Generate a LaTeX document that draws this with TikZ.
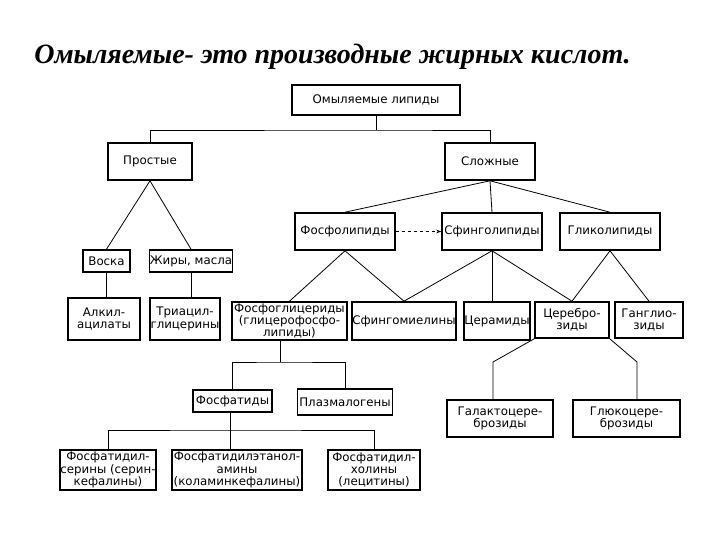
\documentclass[tikz,border=0pt]{standalone}
\usepackage{fontspec}
\setmainfont{Liberation Serif}
\newfontfamily\boxfont{DejaVu Sans}
\usetikzlibrary{arrows.meta,positioning,calc}

\begin{document}
\begin{tikzpicture}[x=1pt,y=-1pt,
every node/.style={draw, line width=1.6pt, align=center, inner sep=0.5pt,
font=\boxfont\fontsize{11.8}{12.2}\selectfont},
link/.style={line width=0.8pt}]
\useasboundingbox (0,0) rectangle (720,540);
\node[draw=none, anchor=west, font=\rmfamily\bfseries\itshape\fontsize{28}{32}\selectfont] (T) at (33,57) {Омыляемые- это производные жирных кислот.};
\node[minimum width=168, minimum height=30] (L) at (376,100) {Омыляемые липиды};
\node[minimum width=84, minimum height=37] (P) at (150,161.5) {Простые};
\node[minimum width=90, minimum height=37] (S) at (490,161.5) {Сложные};
\node[minimum width=100, minimum height=37] (S1) at (345,231.5) {Фосфолипиды};
\node[minimum width=100, minimum height=37] (S2) at (492,231.5) {Сфинголипиды};
\node[minimum width=100, minimum height=37] (S3) at (610,231.5) {Гликолипиды};
\node[minimum width=47, minimum height=22] (P1) at (106.5,261) {Воска};
\node[minimum width=82, minimum height=22] (P2) at (191,261) {Жиры, масла};
\node[minimum width=72, minimum height=42] (P11) at (104,319) {Алкил-\\ацилаты};
\node[minimum width=66, minimum height=42] (P21) at (185,319) {Триацил-\\глицерины};
\node[minimum width=115, minimum height=38] (S11) at (289.5,321) {Фосфоглицериды\\(глицерофосфо-\\липиды)};
\node[minimum width=102, minimum height=38] (S21) at (404,321) {Сфингомиелины};
\node[minimum width=64, minimum height=38] (S22) at (497,321) {Церамиды};
\node[minimum width=74, minimum height=36] (S31) at (572,320) {Церебро-\\зиды};
\node[minimum width=68, minimum height=36] (S32) at (649,320) {Ганглио-\\зиды};
\node[minimum width=79, minimum height=22] (F1) at (232.5,401) {Фосфатиды};
\node[minimum width=95, minimum height=26] (F2) at (345,402) {Плазмалогены};
\node[minimum width=106, minimum height=37] (C1) at (500,418.5) {Галактоцере-\\брозиды};
\node[minimum width=107, minimum height=37] (C2) at (626.5,418.5) {Глюкоцере-\\брозиды};
\node[minimum width=87, minimum height=40] (F11) at (108,470) {Фосфатидил-\\серины (серин-\\кефалины)};
\node[minimum width=130, minimum height=40] (F12) at (237,470) {Фосфатидилэтанол-\\амины\\(коламинкефалины)};
\node[minimum width=92, minimum height=40] (F13) at (374,470) {Фосфатидил-\\холины\\(лецитины)};
\coordinate (J1) at (376,130);
\coordinate (J2) at (280,362);
\coordinate (J3) at (230,430);
\coordinate (K1) at (493,362);
\coordinate (K2) at (637,362);
\draw[link] (L)--(J1);
\draw[link] (P.north) |- (J1) -| (S.north);
\draw[link] (P.south)--(P1.north);
\draw[link] (P.south)--(P2.north);
\draw[link] (P1.south)--(P1.south |- P11.north);
\draw[link] (P2.south)--(P2.south |- P21.north);
\draw[link] (S.south)--(S1.north);
\draw[link] (S.south)--(S2.north);
\draw[link] (S.south)--(S3.north);
\draw[link, dashed, -{Stealth[length=5pt]}] (S1.east)--(S2.west);
\draw[link] (S1.south)--(S11.north);
\draw[link] (S1.south)--(S21.north);
\draw[link] (S2.south)--(S21.north);
\draw[link] (S2.south)--(S2.south |- S22.north);
\draw[link] (S2.south)--(S31.north);
\draw[link] (S3.south)--(S31.north);
\draw[link] (S3.south)--(S32.north);
\draw[link] (S11.south -| J2)--(J2);
\draw[link] (F1.north) |- (J2) -| (F2.north);
\draw[link] (F1.south -| J3)--(J3 |- F12.north);
\draw[link] (F11.north) |- (J3) -| (F13.north);
\draw[link] (S31.south west)--(K1)--(K1 |- C1.north);
\draw[link] (S31.south east)--(K2)--(K2 |- C2.north);
\end{tikzpicture}
\end{document}
